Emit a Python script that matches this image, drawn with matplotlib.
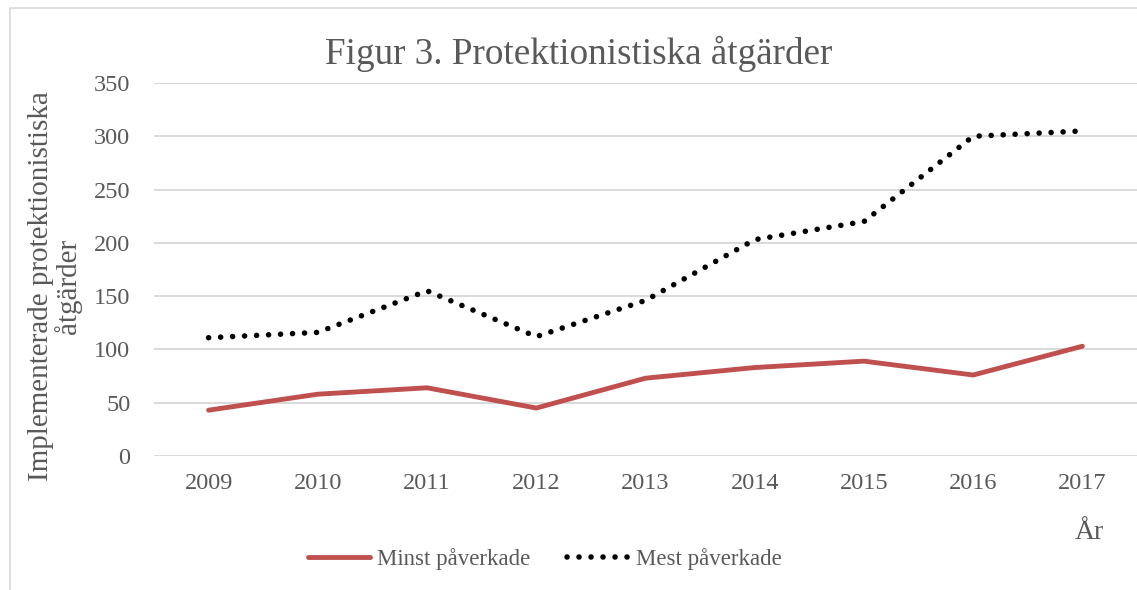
import matplotlib
matplotlib.use("Agg")
import matplotlib.pyplot as plt
from matplotlib.patches import Rectangle

years = ["2009", "2010", "2011", "2012", "2013", "2014", "2015", "2016", "2017"]
minst = [43, 58, 64, 45, 73, 83, 89, 76, 103]
mest = [111, 116, 155, 112, 146, 203, 220, 300, 305]
yticks = [0, 50, 100, 150, 200, 250, 300, 350]

title = "Figur 3. Protektionistiska åtgärder"
ylabel = "Implementerade protektionistiska\nåtgärder"
xlabel = "År"
labels = ["Minst påverkade", "Mest påverkade"]

GRAY = "#595959"
SERIF = ["Liberation Serif", "DejaVu Serif"]

fig = plt.figure(figsize=(11.37, 5.90), dpi=100)
fig.patch.set_facecolor("white")

# figure border
fig.patches.append(Rectangle((10 / 1137, -0.05), 1.2, 1 - 8 / 590 + 0.05,
                             transform=fig.transFigure, fill=False,
                             edgecolor="#d9d9d9", linewidth=1.2))

ax = fig.add_axes([154 / 1137, 1 - 456 / 590, 983 / 1137, (456 - 83) / 590])
x = list(range(len(years)))
ax.plot(x, minst, color="#c0504d", linewidth=3.5, solid_capstyle="round",
        solid_joinstyle="round", label=labels[0], zorder=3)
ax.plot(x, mest, color="black", linewidth=4.0, linestyle=(0, (0.01, 2.15)),
        dash_capstyle="round", label=labels[1], zorder=3)

ax.set_xlim(-0.5, len(years) - 0.5)
ax.set_ylim(0, 350)
ax.set_yticks(yticks)
ax.set_xticks(x)
ax.set_xticklabels(years)
for s in ax.spines.values():
    s.set_visible(False)
ax.grid(axis="y", color="#d9d9d9", linewidth=1.4)
ax.set_axisbelow(True)
ax.tick_params(axis="both", length=0, labelcolor=GRAY, labelsize=17.5)
ax.tick_params(axis="y", pad=17)
ax.tick_params(axis="x", pad=12)
for lab in ax.get_xticklabels() + ax.get_yticklabels():
    lab.set_family(SERIF)

fig.text(579 / 1137, 1 - 64 / 590, title, ha="center", va="baseline",
         fontsize=26.7, color=GRAY, family=SERIF)
fig.text(55 / 1137, 1 - 286 / 590, ylabel, ha="center", va="center",
         rotation=90, multialignment="center", linespacing=1.0,
         fontsize=21, color=GRAY, family=SERIF)
fig.text(1089 / 1137, 1 - 539 / 590, xlabel, ha="center", va="baseline",
         fontsize=20, color=GRAY, family=SERIF)

leg = fig.legend(loc="center", bbox_to_anchor=(545 / 1137, 1 - 559 / 590),
                 ncol=2, frameon=False, handlelength=2.7, handletextpad=0.3,
                 columnspacing=1.6, prop={"family": SERIF, "size": 16.5})
for t in leg.get_texts():
    t.set_color(GRAY)

fig.savefig("out.png", dpi=100, facecolor="white")
